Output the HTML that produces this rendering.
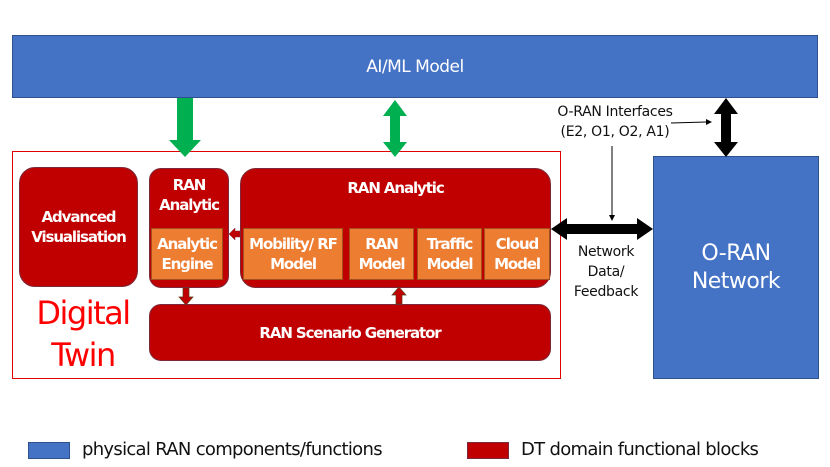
<!DOCTYPE html><html><head><style>
body{margin:0;width:830px;height:467px;background:#fff;position:relative;overflow:hidden;font-family:"DejaVu Sans","Liberation Sans",sans-serif}
.a{position:absolute;box-sizing:border-box;display:flex;align-items:center;justify-content:center;text-align:center}
.r{background:#c00000;border:1px solid #7a2a3a;border-radius:12px;color:#fff;font-weight:bold;font-size:15px;letter-spacing:-1.1px;line-height:20px}
.o{background:#ed7d31;border:1px solid #a25020;color:#fff;font-weight:bold;font-size:15px;letter-spacing:-1.1px;line-height:20px}
</style></head><body>
<div class="a" style="left:12px;top:35px;width:806px;height:63px;background:#4472c4;border:1px solid #2f528f;color:#fff;font-size:17px;letter-spacing:-0.5px">AI/ML Model</div>
<div class="a" style="left:12px;top:151px;width:549px;height:228px;border:1.5px solid #e00000"></div>
<div class="a r" style="left:19px;top:167px;width:119px;height:120px;border-radius:16px">Advanced<br>Visualisation</div>
<div class="a r" style="left:149px;top:168px;width:80px;height:120px;align-items:flex-start;padding-top:6px">RAN<br>Analytic</div>
<div class="a o" style="left:151px;top:228px;width:72px;height:52px">Analytic<br>Engine</div>
<div class="a r" style="left:240px;top:168px;width:311px;height:120px;border-radius:16px;align-items:flex-start;padding-top:9px">RAN Analytic</div>
<div class="a o" style="left:243px;top:228px;width:100px;height:52px">Mobility/ RF<br>Model</div>
<div class="a o" style="left:349px;top:228px;width:65px;height:52px">RAN<br>Model</div>
<div class="a o" style="left:417px;top:228px;width:65px;height:52px">Traffic<br>Model</div>
<div class="a o" style="left:484px;top:228px;width:66px;height:52px">Cloud<br>Model</div>
<div class="a r" style="left:149px;top:304px;width:402px;height:57px">RAN Scenario Generator</div>
<div class="a" style="left:33px;top:292px;width:100px;color:#ff0000;font-size:32px;line-height:42px;letter-spacing:-1.5px">Digital<br>Twin</div>
<div class="a" style="left:653px;top:156px;width:166px;height:223px;background:#4472c4;border:1px solid #2f528f;color:#fff;font-size:22px;line-height:28px;letter-spacing:-0.5px">O-RAN<br>Network</div>
<div class="a" style="left:540px;top:102px;width:150px;font-size:14px;line-height:20px;color:#111;letter-spacing:-0.3px">O-RAN Interfaces<br>(E2, O1, O2, A1)</div>
<div class="a" style="left:560px;top:242px;width:92px;font-size:14px;line-height:20px;color:#111;letter-spacing:-0.3px">Network<br>Data/<br>Feedback</div>
<svg style="position:absolute;left:0;top:0" width="830" height="467">
<polygon points="177,98 193,98 193,140 201,140 185,157 169,140 177,140" fill="#00b050"/>
<polygon points="395,100 407,116 400,116 400,142 407,142 395,157 383,142 390,142 390,116 383,116" fill="#00b050"/>
<polygon points="726,98 738,114 731,114 731,142 738,142 726,157 714,142 721,142 721,114 714,114" fill="#000"/>
<polygon points="551,229 567,218 567,224 637,224 637,218 653,229 637,240 637,234 567,234 567,240" fill="#000"/>
<line x1="612" y1="146" x2="612" y2="216" stroke="#000" stroke-width="1"/><polygon points="609,215 615,215 612,221" fill="#000"/>
<line x1="671" y1="123" x2="706" y2="122" stroke="#000" stroke-width="1"/><polygon points="706,119 712,122 706,125" fill="#000"/>
<polygon points="229,234 235,228 235,231 240,231 240,237 235,237 235,240" fill="#c00000" stroke="#7a2a3a" stroke-width=".5"/>
<polygon points="183,288 189,288 189,297 193,297 186,305 179,297 183,297" fill="#c00000" stroke="#5a3a1a" stroke-width=".7"/>
<polygon points="396,295 392,295 399,287 406,295 402,295 402,304 396,304" fill="#c00000" stroke="#5a3a1a" stroke-width=".7"/>
</svg>
<div style="position:absolute;left:28px;top:442px;width:42px;height:17px;background:#4472c4;border:1px solid #2f528f;box-sizing:border-box"></div>
<div style="position:absolute;left:82px;top:439px;font-size:18px;color:#111;letter-spacing:-0.7px">physical RAN components/functions</div>
<div style="position:absolute;left:467px;top:442px;width:42px;height:17px;background:#c00000;border:1px solid #7a2a3a;box-sizing:border-box"></div>
<div style="position:absolute;left:521px;top:439px;font-size:18px;color:#111;letter-spacing:-0.7px">DT domain functional blocks</div>
</body></html>
